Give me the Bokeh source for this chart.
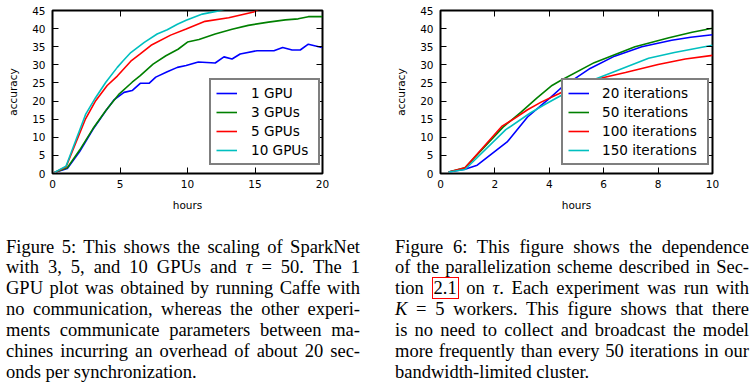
from bokeh.plotting import figure
from bokeh.models import LinearAxis, FixedTicker, Legend, LegendItem, Div
from bokeh.layouts import column, row
from bokeh.embed import file_html
from bokeh.resources import INLINE

# ---------------- data: Figure 5 (GPU scaling) ----------------
gpu_labels = ["1 GPU", "3 GPUs", "5 GPUs", "10 GPUs"]
gpu1_x = [0.15, 1.1, 2.0, 3.0, 3.95, 4.55, 5.3, 5.9, 6.5, 7.15, 7.65, 8.5, 9.25, 9.9,
          10.8, 12.05, 12.7, 13.3, 13.9, 15.15, 16.4, 17.05, 17.75, 18.35, 18.95, 19.95]
gpu1_y = [0.3, 1.4, 6.0, 12.2, 17.3, 20.3, 22.4, 22.9, 24.9, 24.9, 26.6, 28.1, 29.3, 29.8,
          30.8, 30.5, 32.2, 31.6, 33.0, 33.9, 33.9, 34.8, 34.1, 34.1, 35.7, 34.8]
gpu3_x = [0.15, 1.1, 2.0, 3.0, 3.95, 4.95, 5.9, 6.5, 7.45, 8.4, 9.3, 10.0, 10.85,
          12.05, 13.3, 14.5, 16.0, 17.25, 18.2, 18.95, 20.0]
gpu3_y = [0.3, 1.6, 6.4, 12.4, 17.4, 22.0, 25.2, 27.0, 30.2, 32.5, 34.3, 36.3, 37.0,
          38.5, 39.8, 40.9, 41.8, 42.4, 42.7, 43.3, 43.3]
gpu5_x = [0.15, 1.0, 2.45, 3.2, 4.05, 4.8, 5.8, 6.5, 7.3, 8.75, 9.9, 11.3, 13.05, 14.9, 15.5]
gpu5_y = [0.3, 1.8, 15.1, 20.1, 24.3, 26.9, 31.0, 33.0, 35.4, 38.2, 39.9, 42.0, 43.0, 44.6, 45.8]
gpu10_x = [0.15, 1.0, 2.45, 3.2, 3.95, 4.8, 5.2, 5.8, 6.8, 7.75, 8.5, 9.25, 9.9, 11.1, 12.3, 13.0]
gpu10_y = [0.3, 2.0, 16.3, 21.0, 25.2, 29.3, 31.0, 33.4, 36.2, 38.5, 39.7, 41.2, 42.3, 44.0, 44.9, 45.6]

# ---------------- data: Figure 6 (tau dependence) ----------------
iter_labels = ["20 iterations", "50 iterations", "100 iterations", "150 iterations"]
it20_x = [0.3, 0.9, 1.35, 2.45, 3.2, 3.7, 4.05, 4.4, 4.9, 5.5, 6.4, 7.4, 8.5, 9.2, 10.0]
it20_y = [0.4, 1.2, 2.3, 8.7, 15.6, 18.8, 21.0, 23.4, 26.0, 29.0, 32.4, 35.0, 36.8, 37.6, 38.3]
it50_x = [0.3, 0.9, 2.3, 2.95, 3.55, 4.1, 4.4, 5.65, 7.15, 8.4, 9.25, 10.0]
it50_y = [0.4, 1.6, 12.8, 16.9, 20.9, 24.3, 25.6, 30.6, 35.0, 37.5, 39.0, 40.1]
it100_x = [0.3, 0.9, 2.25, 2.7, 3.2, 3.7, 4.35, 5.1, 6.0, 6.8, 8.0, 9.0, 10.0]
it100_y = [0.4, 1.6, 13.0, 15.1, 17.6, 19.7, 22.0, 24.8, 26.5, 27.9, 30.1, 31.6, 32.6]
it150_x = [0.3, 0.9, 2.4, 3.3, 3.8, 4.35, 5.3, 7.65, 8.6, 10.0]
it150_y = [0.4, 1.1, 12.1, 16.7, 18.9, 21.2, 24.9, 31.8, 33.4, 35.4]

xticks5 = [0, 5, 10, 15, 20]
xticks6 = [0, 2, 4, 6, 8, 10]
yticks = [0, 5, 10, 15, 20, 25, 30, 35, 40, 45]
colors = ["#0000ff", "#008000", "#ff0000", "#00bfbf"]

caption5 = [
    "Figure 5: This shows the scaling of SparkNet",
    "with 3, 5, and 10 GPUs and <i>&tau;</i> = 50. The 1",
    "GPU plot was obtained by running Caffe with",
    "no communication, whereas the other experi-",
    "ments communicate parameters between ma-",
    "chines incurring an overhead of about 20 sec-",
    "onds per synchronization.",
]
caption6 = [
    "Figure 6: This figure shows the dependence",
    "of the parallelization scheme described in Sec-",
    "tion <span style=\"border:1px solid #ff0000;padding:0 1px\">2.1</span> on <i>&tau;</i>. Each experiment was run with",
    "<i>K</i> = 5 workers. This figure shows that there",
    "is no need to collect and broadcast the model",
    "more frequently than every 50 iterations in our",
    "bandwidth-limited cluster.",
]

FONT = "DejaVu Sans"


def make_fig(width, xmax, xt, mbl, mbr, xs, ys, labels, loc, label_width, standoff):
    p = figure(width=width, height=220, x_range=(0, xmax), y_range=(0, 45),
               output_backend="svg", toolbar_location=None,
               min_border_left=mbl, min_border_right=mbr,
               min_border_top=10, min_border_bottom=47)
    p.grid.visible = False
    p.outline_line_color = "black"
    p.outline_line_width = 2
    p.background_fill_color = "white"
    p.border_fill_color = "white"
    p.xaxis.ticker = FixedTicker(ticks=xt)
    p.yaxis.ticker = FixedTicker(ticks=yticks)
    p.xaxis.axis_label = "hours"
    p.yaxis.axis_label = "accuracy"
    for ax in (p.xaxis[0], p.yaxis[0]):
        ax.axis_line_color = None
        ax.major_tick_in = 6
        ax.major_tick_out = 0
        ax.minor_tick_line_color = None
        ax.major_tick_line_color = "black"
        ax.major_label_text_font = FONT
        ax.major_label_text_font_size = "10.5px"
        ax.major_label_text_color = "black"
        ax.axis_label_text_font = FONT
        ax.axis_label_text_font_size = "10.5px"
        ax.axis_label_text_font_style = "normal"
        ax.axis_label_text_color = "black"
    p.xaxis.major_label_standoff = 6
    p.xaxis.axis_label_standoff = 8
    p.yaxis.major_label_standoff = 7
    p.yaxis.axis_label_standoff = 10
    top = LinearAxis(ticker=FixedTicker(ticks=xt),
                     major_label_overrides={t: "" for t in xt})
    right = LinearAxis(ticker=FixedTicker(ticks=yticks),
                       major_label_overrides={t: "" for t in yticks})
    for ax in (top, right):
        ax.axis_line_color = None
        ax.major_tick_in = 6
        ax.major_tick_out = 0
        ax.minor_tick_line_color = None
        ax.major_tick_line_color = "black"
        ax.major_label_text_font_size = "1px"
        ax.major_label_standoff = 0
    p.add_layout(top, "above")
    p.add_layout(right, "right")

    items = []
    for x, y, c, lab in zip(xs, ys, colors, labels):
        r = p.line(x, y, line_color=c, line_width=1.6)
        items.append(LegendItem(label=lab, renderers=[r]))
    leg = Legend(items=items, location=loc, margin=0, padding=5, spacing=3,
                 glyph_width=21, glyph_height=16, label_height=16,
                 label_standoff=standoff, label_width=label_width,
                 label_text_font=FONT, label_text_font_size="13.6px",
                 label_text_color="black",
                 border_line_color="black", border_line_width=2,
                 background_fill_color="white", background_fill_alpha=1.0)
    p.add_layout(leg)
    return p


p1 = make_fig(390, 20, xticks5, 52, 68,
              [gpu1_x, gpu3_x, gpu5_x, gpu10_x], [gpu1_y, gpu3_y, gpu5_y, gpu10_y],
              gpu_labels, (157, 8), 62, 14)
p2 = make_fig(365, 10, xticks6, 50, 43,
              [it20_x, it50_x, it100_x, it150_x], [it20_y, it50_y, it100_y, it150_y],
              iter_labels, (121, 8), 100, 13)


def caption_html(lines, width, left):
    parts = []
    for i, ln in enumerate(lines):
        if i == len(lines) - 1:
            st = "text-align:left;text-align-last:left;word-spacing:0px;"
        else:
            st = "text-align:justify;text-align-last:justify;word-spacing:-1px;"
        parts.append(f'<div style="{st}">{ln}</div>')
    return (f'<div style="width:{width}px;margin-left:{left}px;padding-top:16.6px;'
            f"font-family:'Liberation Serif';font-size:18.5px;line-height:20.83px;"
            f'color:#000;">' + "".join(parts) + "</div>")


d1 = Div(text=caption_html(caption5, 354, 6), width=390, height=170, margin=0)
d2 = Div(text=caption_html(caption6, 354, 5), width=365, height=170, margin=0)

layout = column(row(p1, p2, spacing=0), row(d1, d2, spacing=0), spacing=0)

open("out.html", "w").write(file_html(layout, INLINE))
